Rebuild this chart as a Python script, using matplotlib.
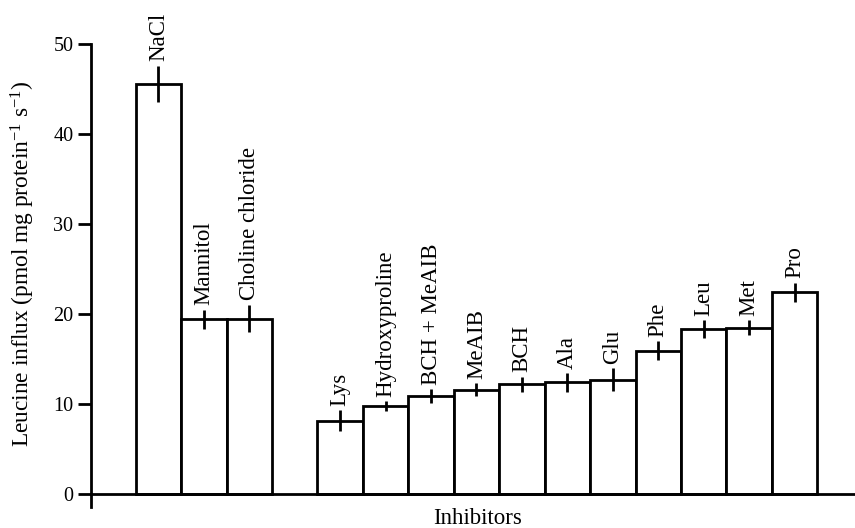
import matplotlib
matplotlib.use("Agg")
import matplotlib.pyplot as plt

plt.rcParams['font.family'] = ['Liberation Serif', 'DejaVu Serif']
plt.rcParams['mathtext.fontset'] = 'custom'
plt.rcParams['mathtext.rm'] = 'Liberation Serif'
plt.rcParams['mathtext.it'] = 'Liberation Serif:italic'
plt.rcParams['mathtext.bf'] = 'Liberation Serif:bold'

# Control conditions (left group) and amino-acid inhibitors (right group)
controls = ["NaCl", "Mannitol", "Choline chloride"]
control_vals = [45.6, 19.4, 19.5]
control_err = [2.0, 1.1, 1.55]

inhibitors = ["Lys", "Hydroxyproline", "BCH + MeAIB", "MeAIB", "BCH", "Ala",
              "Glu", "Phe", "Leu", "Met", "Pro"]
inhibitor_vals = [8.15, 9.8, 10.9, 11.6, 12.2, 12.4, 12.7, 15.9, 18.3, 18.5, 22.4]
inhibitor_err = [1.15, 0.55, 0.75, 0.7, 0.85, 1.05, 1.25, 1.05, 1.0, 0.8, 1.1]

yticks = [0, 10, 20, 30, 40, 50]

labels = controls + inhibitors
values = control_vals + inhibitor_vals
errors = control_err + inhibitor_err
positions = list(range(len(controls))) + \
    [len(controls) + 1 + i for i in range(len(inhibitors))]

LW = 2.0
W, H = 855, 528
fig = plt.figure(figsize=(W / 100, H / 100), dpi=100)
ax = fig.add_axes([90.7 / W, 1 - 507 / H, (855 - 90.7) / W, (507 - 44) / H])

ax.bar(positions, values, width=1.0, color="white", edgecolor="black",
       linewidth=LW, zorder=2)
ax.errorbar(positions, values, yerr=errors, fmt="none", ecolor="black",
            elinewidth=LW, capsize=0, zorder=3)

for x, v, e, lab in zip(positions, values, errors, labels):
    ax.annotate(lab, (x, v + e), xytext=(0, 3), textcoords="offset points",
                rotation=90, ha="center", va="bottom", fontsize=16.5,
                annotation_clip=False)

ax.set_xlim(-1.49, 15.33)
ax.set_ylim(-1.44, 50)
ax.set_yticks(yticks)
ax.set_yticklabels([str(t) for t in yticks], fontsize=14.5)
ax.tick_params(axis="y", direction="out", length=9.5, width=LW, pad=3)
ax.set_xticks([])

for side in ("top", "right"):
    ax.spines[side].set_visible(False)
ax.spines["left"].set_linewidth(LW)
ax.spines["bottom"].set_linewidth(LW)
ax.spines["bottom"].set_position(("data", 0))

fig.text(23 / W, 1 - 264 / H,
         r"Leucine influx (pmol mg protein$^{-1}$ s$^{-1}$)",
         rotation=90, ha="center", va="center", fontsize=16.8)
fig.text(478 / W, 1 - 518 / H, "Inhibitors", ha="center", va="center",
         fontsize=16.5)

fig.savefig("out.png", dpi=100)
